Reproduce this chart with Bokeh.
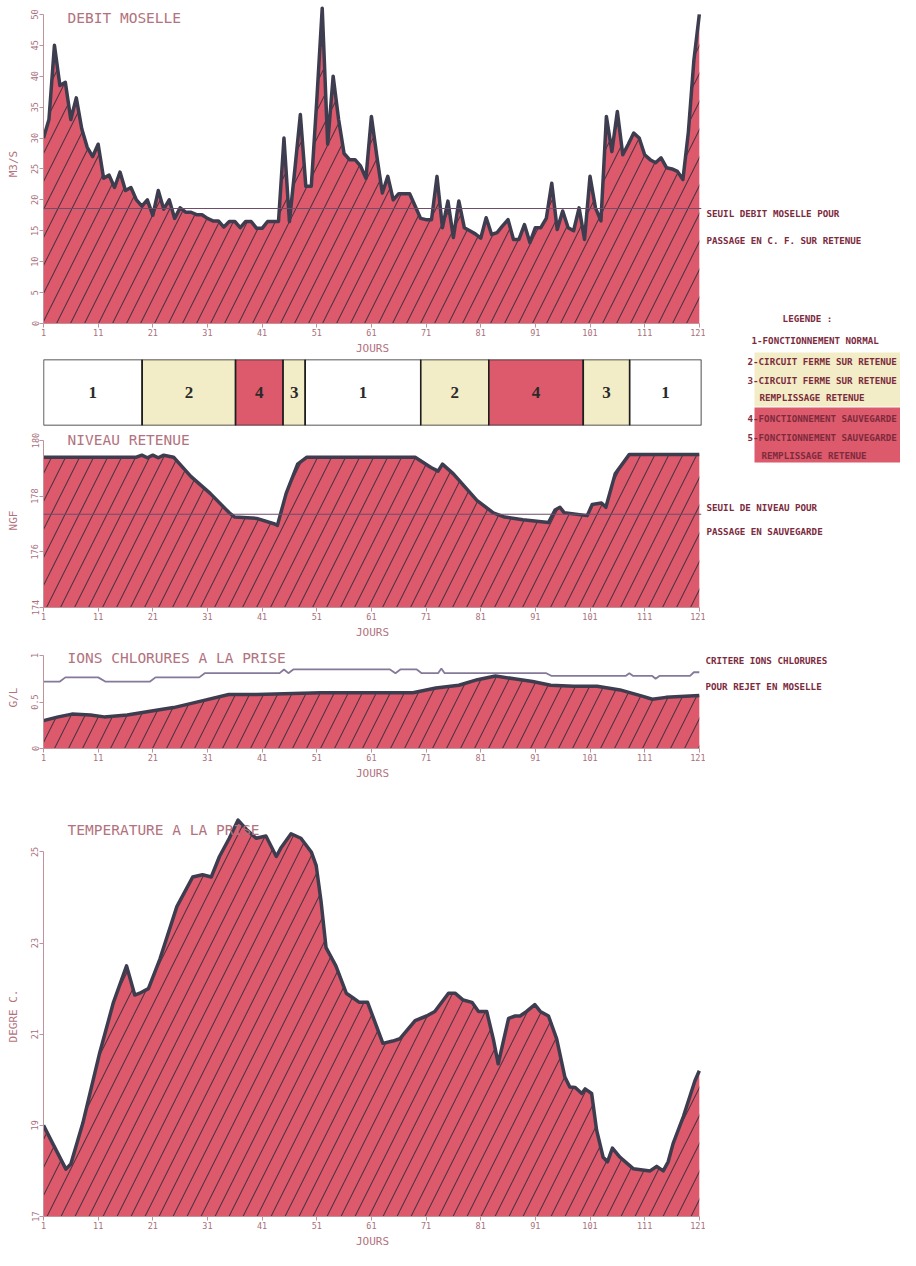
from bokeh.plotting import figure
from bokeh.models import Range1d, FixedTicker, Label, BoxAnnotation, ColumnDataSource, Span
from bokeh.layouts import column, row
from bokeh.embed import file_html
from bokeh.resources import INLINE
from bokeh.core.properties import value

# ---------------- DATA ----------------
days = list(range(1, 122))
x_ticks = [1, 11, 21, 31, 41, 51, 61, 71, 81, 91, 101, 111, 121]

debit_moselle = [
    30, 33, 45, 38.5, 39, 33, 36.5, 31.5, 28.5, 27,
    29, 23.5, 24, 22, 24.5, 21.5, 22, 20, 19, 20,
    17.5, 21.5, 18.5, 20, 17, 18.7, 18, 18, 17.6, 17.6,
    17, 16.6, 16.6, 15.6, 16.5, 16.5, 15.5, 16.5, 16.5, 15.4,
    15.4, 16.5, 16.5, 16.5, 30, 16.5, 25, 33.8, 22.2, 22.2,
    36, 51, 29, 40, 33, 27.5, 26.5, 26.5, 25.5, 23.5,
    33.5, 27, 21.1, 23.8, 20, 21, 21, 21, 19, 17,
    16.8, 16.8, 23.8, 15.5, 19.8, 13.9, 19.8, 15.5, 15, 14.5,
    13.8, 17.1, 14.4, 14.7, 15.8, 16.8, 13.6, 13.6, 16, 13.1,
    15.5, 15.5, 17, 22.7, 15.2, 18.2, 15.5, 15, 18.7, 13.6,
    23.8, 18.7, 16.6, 33.5, 27.8, 34.3, 27.3, 29, 30.8, 30,
    27.3, 26.5, 26, 26.8, 25.2, 25, 24.6, 23.3, 31, 42.5,
    50,
]
seuil_debit = 18.6

mode_start = [-0.3, 18, 35.3, 44.1, 48.2, 69.6, 82.2, 99.7, 108.3]
mode_end = [18, 35.3, 44.1, 48.2, 69.6, 82.2, 99.7, 108.3, 121.6]
mode_code = ["1", "2", "4", "3", "1", "2", "4", "3", "1"]

niveau_days = [1, 18, 19, 20, 21, 22, 23, 24.8, 28, 31.5, 35, 36, 40, 43.3, 43.8,
               45.4, 47.5, 49.2, 69, 71.9, 73.2, 74, 76, 80.3, 83.3, 85.4, 88.7,
               93.4, 94.6, 95.5, 96.3, 100.5, 101.4, 103.1, 103.9, 105.6, 108.2, 121]
niveau_vals = [179.4, 179.4, 179.47, 179.38, 179.47, 179.38, 179.47, 179.4, 178.7, 178.1,
               177.4, 177.25, 177.2, 177.0, 176.95, 178.1, 179.15, 179.4, 179.4, 179.03,
               178.9, 179.15, 178.8, 177.85, 177.4, 177.25, 177.15, 177.05, 177.5, 177.6,
               177.4, 177.3, 177.7, 177.75, 177.6, 178.8, 179.5, 179.5]
seuil_niveau = 177.35

chlore_days = [1, 3.7, 6.2, 9.6, 12.1, 16.3, 20.5, 24.8, 29.8, 34.9, 40, 45, 51.7, 60.1,
               68.6, 72.8, 77, 80.4, 83.7, 87.1, 90.5, 93.8, 98, 102.3, 106.5, 110.7,
               112.4, 114.9, 121]
chlore_vals = [0.30, 0.34, 0.37, 0.36, 0.34, 0.36, 0.40, 0.44, 0.51, 0.58, 0.58, 0.59,
               0.60, 0.60, 0.60, 0.65, 0.68, 0.74, 0.78, 0.75, 0.72, 0.68, 0.67, 0.67,
               0.63, 0.56, 0.53, 0.55, 0.57]

critere_days = [1, 4, 5, 11, 12.3, 20.5, 21.5, 29.5, 30.5, 44.2, 45, 45.8, 46.7, 64.4,
                65.4, 66.3, 69.3, 70.2, 73.2, 73.8, 74.4, 93, 94, 107.5, 108.2, 108.9,
                112.4, 113, 113.7, 119.3, 120, 121]
critere_vals = [0.72, 0.72, 0.765, 0.765, 0.72, 0.72, 0.765, 0.765, 0.81, 0.81, 0.85,
                0.81, 0.85, 0.85, 0.81, 0.85, 0.85, 0.81, 0.81, 0.86, 0.81, 0.81, 0.78,
                0.78, 0.81, 0.78, 0.78, 0.75, 0.78, 0.78, 0.82, 0.82]

temp_days = [1, 2.7, 5.1, 6, 8.2, 11.3, 13.8, 16.2, 17.7, 18.6, 20.2, 22.3, 25.4, 28.3,
             30.1, 31.7, 33.2, 35, 36.6, 38.1, 39.9, 41.7, 43.6, 44.5, 46.3, 48.1, 50,
             50.9, 51.8, 52.7, 54.5, 56.4, 57.6, 58.8, 60.3, 63.1, 64.9, 66.2, 69, 71.1,
             72.6, 75.1, 76.3, 77.8, 79.4, 80.6, 82.1, 83.3, 84.2, 86.1, 87.3, 88.2,
             89.4, 90.9, 91.9, 93.4, 94.9, 96.4, 97.3, 98.3, 99.5, 100.1, 101.3, 102.2,
             103.4, 104.2, 105.1, 106.5, 108.9, 112, 113.2, 114.4, 115.3, 116.2, 118.1,
             120.2, 121]
temp_vals = [19.0, 18.6, 18.04, 18.15, 19.05, 20.6, 21.7, 22.5, 21.86, 21.9, 22.0, 22.65,
             23.8, 24.45, 24.5, 24.45, 24.9, 25.3, 25.7, 25.5, 25.3, 25.35, 24.9, 25.1,
             25.4, 25.3, 25.0, 24.7, 23.9, 22.9, 22.5, 21.9, 21.8, 21.7, 21.7, 20.8,
             20.85, 20.9, 21.3, 21.4, 21.5, 21.9, 21.9, 21.75, 21.7, 21.5, 21.5, 20.9,
             20.35, 21.35, 21.4, 21.4, 21.5, 21.65, 21.5, 21.4, 20.9, 20.06, 19.84,
             19.83, 19.7, 19.8, 19.7, 18.9, 18.3, 18.2, 18.5, 18.3, 18.05, 18.0, 18.1,
             18.0, 18.2, 18.6, 19.2, 19.98, 20.2]

# ---------------- STYLE ----------------
RED = "#dc5a6b"
HATCH = "#3a2c3c"
OUTLINE = "#3e3d50"
AXIS = "#c0929a"
TICKTXT = "#a8707c"
TITLE = "#b2727e"
DARKTXT = "#7c2b3d"
YELLOW = "#f2edc6"
MONO = "DejaVu Sans Mono"
LEFT_W = 705
RIGHT_W = 195
H_FLOW, H_MODE, H_NIV, H_CHL, H_TEMP = 357, 75, 213, 145, 460
TOTAL_H = H_FLOW + H_MODE + H_NIV + H_CHL + H_TEMP


def base_fig(h, top, bottom, yr):
    p = figure(width=LEFT_W, height=h, min_border_left=43, min_border_right=4,
               min_border_top=top, min_border_bottom=bottom,
               x_range=Range1d(1, 121.4), y_range=yr,
               toolbar_location=None, output_backend="svg")
    p.grid.visible = False
    p.outline_line_color = None
    p.background_fill_color = "white"
    p.border_fill_color = "white"
    return p


def style_axes(p, yticks, ylabel, ybounds, overrides=None):
    p.xaxis.ticker = FixedTicker(ticks=x_ticks)
    p.yaxis.ticker = FixedTicker(ticks=yticks)
    p.yaxis.bounds = ybounds
    p.xaxis.bounds = (1, 121)
    p.xaxis.axis_label = "JOURS"
    p.yaxis.axis_label = ylabel
    if overrides:
        p.yaxis.major_label_overrides = overrides
    for ax in p.axis:
        ax.axis_line_color = AXIS
        ax.axis_line_width = 1
        ax.major_tick_line_color = AXIS
        ax.minor_tick_line_color = None
        ax.major_tick_out = 4
        ax.major_tick_in = 0
        ax.major_label_standoff = 1
        ax.major_label_text_font = MONO
        ax.major_label_text_font_size = "8.5px"
        ax.major_label_text_color = TICKTXT
        ax.axis_label_text_font = MONO
        ax.axis_label_text_font_style = "normal"
        ax.axis_label_text_font_size = "11px"
        ax.axis_label_text_color = TITLE
    p.xaxis.axis_label_standoff = 3
    p.yaxis.axis_label_standoff = 9
    p.yaxis.major_label_orientation = "vertical"


def area(p, x, y, base):
    src = ColumnDataSource(dict(x=x, y=y, b=[base] * len(x)))
    p.varea(x="x", y1="b", y2="y", source=src, fill_color=RED, hatch_pattern="/",
            hatch_color=HATCH, hatch_scale=28, hatch_weight=1.1, hatch_alpha=0.85)
    p.line(x="x", y="y", source=src, line_color=OUTLINE, line_width=3.5, line_join="round")


def title(p, text, y):
    p.add_layout(Label(x=5.4, y=y, text=text, text_font=MONO, text_font_size="14.5px",
                       text_color=TITLE, text_baseline="middle"))


# ---- Debit Moselle ----
p1 = base_fig(H_FLOW, 4, 34, Range1d(0, 51.6))
area(p1, days, debit_moselle, 0)
p1.add_layout(Span(location=seuil_debit, dimension="width", line_color="#6e4c6a", line_width=1.2))
style_axes(p1, list(range(0, 51, 5)), "M3/S", (0, 50))
title(p1, "DEBIT MOSELLE", 49.4)

# ---- Mode bar ----
pm = figure(width=LEFT_W, height=H_MODE, min_border_left=36, min_border_right=3,
            min_border_top=2, min_border_bottom=7, x_range=Range1d(-0.28, 121.6),
            y_range=Range1d(0, 1), toolbar_location=None, output_backend="svg")
pm.grid.visible = False
pm.axis.visible = False
pm.outline_line_color = None
mode_colors = {"1": "white", "2": YELLOW, "3": YELLOW, "4": RED}
msrc = ColumnDataSource(dict(
    left=mode_start, right=mode_end,
    mid=[(a + b) / 2 for a, b in zip(mode_start, mode_end)],
    code=mode_code, color=[mode_colors[c] for c in mode_code],
    ymid=[0.5] * len(mode_code)))
pm.quad(left="left", right="right", bottom=0, top=1, source=msrc, fill_color="color",
        line_color="#1e1e1e", line_width=1.6)
pm.text(x="mid", y="ymid", text="code", source=msrc, text_font=value("Liberation Serif"),
        text_font_size="17px", text_font_style="bold", text_align="center",
        text_baseline="middle", text_color="#2a2a2a")

# ---- Niveau retenue ----
p2 = base_fig(H_NIV, 1, 38, Range1d(174, 180.25))
area(p2, niveau_days, niveau_vals, 174)
p2.add_layout(Span(location=seuil_niveau, dimension="width", line_color="#6e4c6a", line_width=1.2))
style_axes(p2, [174, 176, 178, 180], "NGF", (174, 180))
title(p2, "NIVEAU RETENUE", 180.0)

# ---- Ions chlorures ----
p3 = base_fig(H_CHL, 1, 42, Range1d(0, 1.097))
area(p3, chlore_days, chlore_vals, 0)
p3.line(critere_days, critere_vals, line_color="#85799a", line_width=1.8)
style_axes(p3, [0, 0.5, 1], "G/L", (0, 1), {0: "0", 0.5: "0.5", 1: "1"})
title(p3, "IONS CHLORURES A LA PRISE", 0.975)

# ---- Temperature ----
p4 = base_fig(H_TEMP, 25, 33, Range1d(17, 25.8))
area(p4, temp_days, temp_vals, 17)
style_axes(p4, [17, 19, 21, 23, 25], "DEGRE C.", (17, 25))
title(p4, "TEMPERATURE A LA PRISE", 25.48)

left_col = column(p1, pm, p2, p3, p4, spacing=0)

# ---- Right annotation column ----
pr = figure(width=RIGHT_W, height=TOTAL_H, min_border=0,
            x_range=Range1d(0, RIGHT_W), y_range=Range1d(TOTAL_H, 0),
            toolbar_location=None, output_backend="svg")
pr.grid.visible = False
pr.axis.visible = False
pr.outline_line_color = None
pr.add_layout(BoxAnnotation(left=49, right=RIGHT_W, top=352, bottom=406,
                            fill_color=YELLOW, fill_alpha=1, line_color=None))
pr.add_layout(BoxAnnotation(left=49, right=RIGHT_W, top=407, bottom=462,
                            fill_color=RED, fill_alpha=1, line_color=None))

notes = [
    (1, 213, "SEUIL DEBIT MOSELLE POUR", "left"),
    (1, 240, "PASSAGE EN C. F. SUR RETENUE", "left"),
    (102, 318, "LEGENDE :", "center"),
    (46, 340, "1-FONCTIONNEMENT NORMAL", "left"),
    (42, 361, "2-CIRCUIT FERME SUR RETENUE", "left"),
    (42, 380, "3-CIRCUIT FERME SUR RETENUE", "left"),
    (54, 397, "REMPLISSAGE RETENUE", "left"),
    (42, 418, "4-FONCTIONNEMENT SAUVEGARDE", "left"),
    (42, 437, "5-FONCTIONNEMENT SAUVEGARDE", "left"),
    (56, 455, "REMPLISSAGE RETENUE", "left"),
    (1, 507, "SEUIL DE NIVEAU POUR", "left"),
    (1, 531, "PASSAGE EN SAUVEGARDE", "left"),
    (0, 660, "CRITERE IONS CHLORURES", "left"),
    (0, 686, "POUR REJET EN MOSELLE", "left"),
]
for x, y, t, al in notes:
    pr.add_layout(Label(x=x, y=y, text=t, text_font=MONO, text_font_size="9.2px",
                        text_font_style="bold", text_color=DARKTXT,
                        text_baseline="middle", text_align=al))

layout = row(left_col, pr, spacing=0)
open("out.html", "w").write(file_html(layout, INLINE))
